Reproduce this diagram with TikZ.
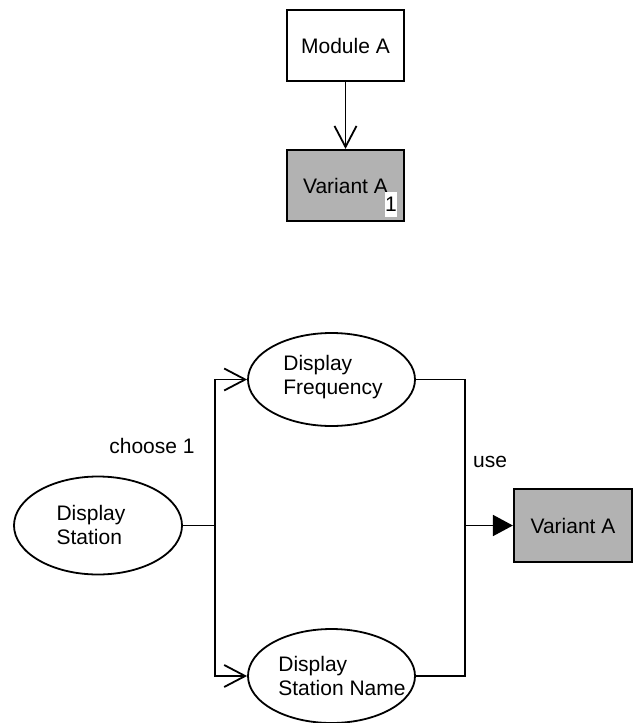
\documentclass[tikz,border=0pt]{standalone}
\usepackage{fontspec}
\setmainfont{Liberation Sans}
\usetikzlibrary{arrows.meta,shapes.geometric}
\definecolor{boxgray}{RGB}{178,178,178}
\begin{document}
\begin{tikzpicture}[x=1pt,y=-1pt,
  every node/.style={font=\fontsize{21}{24}\selectfont},
  modbox/.style={draw, line width=2.2pt, minimum width=117pt, minimum height=71pt, inner sep=0pt},
  varbox/.style={modbox, fill=boxgray},
  feat/.style={draw, ellipse, line width=1.8pt, inner sep=0pt},
  txt/.style={align=left, inner sep=0pt},
  conn/.style={line width=1.8pt},
  openarrow/.style={conn, -{Straight Barb[length=21pt,width=22pt]}},
  fillarrow/.style={conn, -{Triangle[length=20pt,width=21pt]}}]
\useasboundingbox (0,0) rectangle (633,723);

% top part
\node[modbox] (modA) at (345.5,45.5) {Module A};
\node[varbox] (varT) at (345.5,185.5) {Variant A};
\node[fill=white, inner sep=0pt, minimum width=12pt, minimum height=25pt] (one) at (391,204.5) {1};
\draw[openarrow] (modA.south) -- (varT.north);

% bottom part
\node[feat, minimum width=168pt, minimum height=98pt] (ds) at (98,525.5) {};
\node[txt] (dst) at (91,525) {Display\\Station};
\node[feat, minimum width=167pt, minimum height=93pt] (df) at (331.5,379.5) {};
\node[txt] (dft) at (333,377) {Display\\Frequency};
\node[feat, minimum width=167pt, minimum height=94pt] (dsn) at (331.5,676) {};
\node[txt] (dsnt) at (342,676) {Display\\Station Name};
\node[varbox, minimum width=118pt, minimum height=73pt] (varR) at (573,525.5) {Variant A};

\node[inner sep=0pt] (choose) at (152,446) {choose 1};
\node[inner sep=0pt] (use) at (490,462) {use};

\coordinate (j1) at (215,525.5);
\coordinate (j2) at (465,525.5);
\draw[conn] (ds.east) -- (j1);
\draw[openarrow] (j1) |- (df.west);
\draw[openarrow] (j1) |- (dsn.west);
\draw[conn] (df.east) -| (j2);
\draw[conn] (dsn.east) -| (j2);
\draw[fillarrow] (j2) -- (varR.west);
\end{tikzpicture}
\end{document}
